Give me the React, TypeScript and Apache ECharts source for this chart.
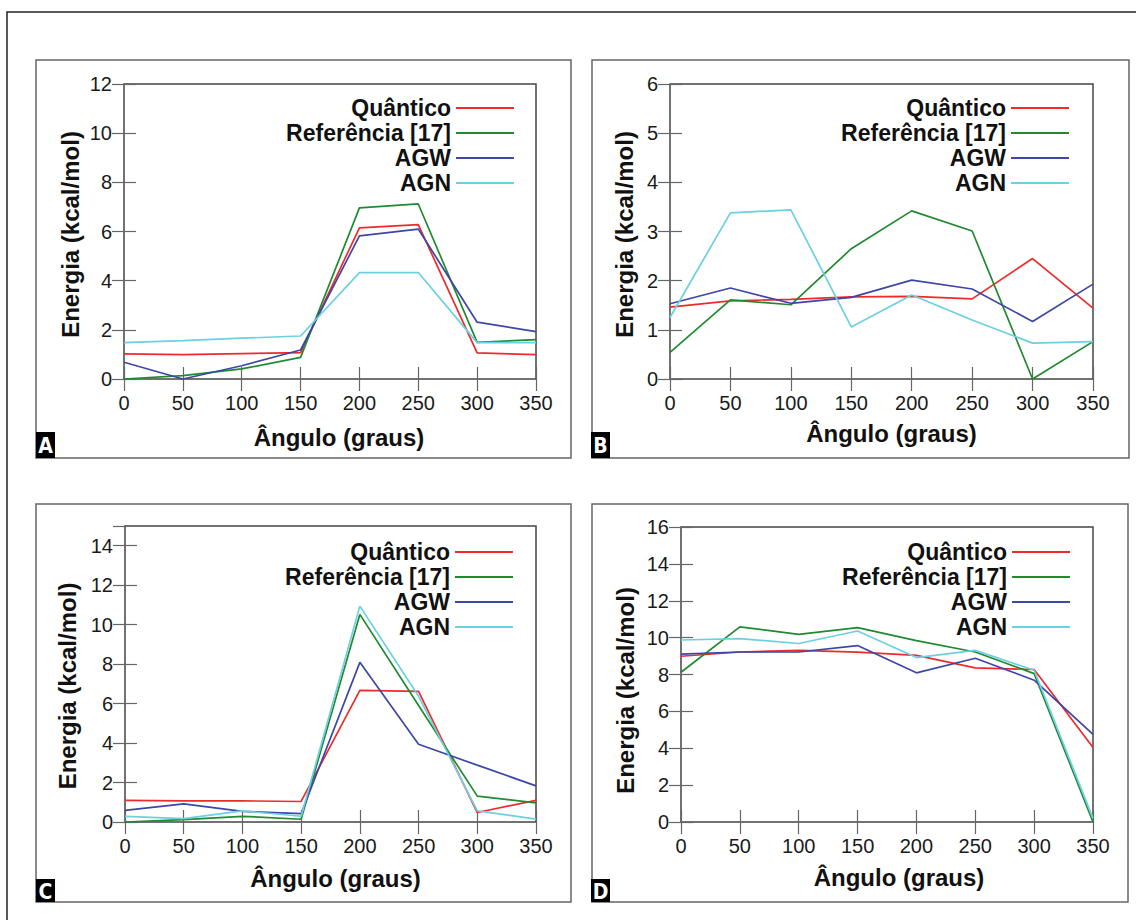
import React, { useEffect, useRef } from 'react';
import * as echarts from 'echarts';

// ---------------- data ----------------
const angles = [0, 50, 100, 150, 200, 250, 300, 350];
const seriesNames = ['Quântico', 'Referência [17]', 'AGW', 'AGN'];
const seriesColors = ['#ee2a2a', '#1f8a30', '#3d47a6', '#6dcfe2'];

// Panel A
const quanticoA = [1.02, 0.99, 1.03, 1.07, 6.15, 6.28, 1.06, 0.99];
const referenciaA = [0.0, 0.14, 0.41, 0.88, 6.96, 7.12, 1.49, 1.6];
const agwA = [0.68, 0.0, 0.54, 1.18, 5.82, 6.1, 2.31, 1.93];
const agnA = [1.48, 1.56, 1.66, 1.75, 4.33, 4.33, 1.48, 1.48];

// Panel B
const quanticoB = [1.46, 1.59, 1.62, 1.67, 1.68, 1.63, 2.45, 1.44];
const referenciaB = [0.54, 1.61, 1.51, 2.65, 3.42, 3.01, 0.0, 0.76];
const agwB = [1.53, 1.85, 1.54, 1.66, 2.01, 1.83, 1.17, 1.93];
const agnB = [1.25, 3.38, 3.44, 1.06, 1.71, 1.2, 0.73, 0.76];

// Panel C
const quanticoC = [1.1, 1.07, 1.07, 1.04, 6.67, 6.62, 0.48, 1.1];
const referenciaC = [0.0, 0.12, 0.29, 0.14, 10.52, 5.9, 1.31, 0.97];
const agwC = [0.59, 0.92, 0.54, 0.42, 8.09, 3.94, 2.88, 1.83];
const agnC = [0.29, 0.17, 0.56, 0.29, 10.94, 6.37, 0.56, 0.15];

// Panel D
const quanticoD = [8.99, 9.22, 9.31, 9.21, 9.04, 8.36, 8.27, 4.04];
const referenciaD = [8.12, 10.58, 10.18, 10.54, 9.84, 9.22, 8.05, 0.0];
const agwD = [9.1, 9.22, 9.22, 9.57, 8.09, 8.88, 7.69, 4.75];
const agnD = [9.87, 9.95, 9.68, 10.36, 8.92, 9.31, 8.23, 0.2];

const yMaxes = [12, 6, 15, 16];
const yIntervals = [2, 1, 2, 2];
const panelLetters = ['A', 'B', 'C', 'D'];
const xTitle = 'Ângulo (graus)';
const yTitle = 'Energia (kcal/mol)';

// ---------------- layout ----------------
const panelData = [
  [quanticoA, referenciaA, agwA, agnA],
  [quanticoB, referenciaB, agwB, agnB],
  [quanticoC, referenciaC, agwC, agnC],
  [quanticoD, referenciaD, agwD, agnD],
];

const layouts = [
  { grid: { left: 124, top: 84, width: 412, height: 295 }, legend: { right: 622, top: 95.5 }, xGap: 46, xPad: 18, yGap: 42, yPad: 6,
    frame: { x: 36, y: 60, width: 535, height: 398 }, tag: { x: 36, y: 432, width: 19, height: 26 } },
  { grid: { left: 670, top: 84, width: 423, height: 295 }, legend: { right: 67, top: 95.5 }, xGap: 42, xPad: 20, yGap: 34, yPad: 6,
    frame: { x: 592, y: 60, width: 537, height: 398 }, tag: { x: 591, y: 432, width: 19, height: 26 } },
  { grid: { left: 125, top: 526, width: 411, height: 296 }, legend: { right: 623, top: 539.5 }, xGap: 44, xPad: 10, yGap: 46, yPad: 24,
    frame: { x: 36, y: 504, width: 535, height: 398 }, tag: { x: 36, y: 879, width: 19, height: 23 } },
  { grid: { left: 681, top: 527, width: 412, height: 295 }, legend: { right: 66, top: 539.5 }, xGap: 43, xPad: 24, yGap: 44, yPad: 32,
    frame: { x: 592, y: 504, width: 536, height: 398 }, tag: { x: 591, y: 879, width: 19, height: 23 } },
];

const FONT = '"Liberation Sans", Arial, Helvetica, sans-serif';

function buildOption() {
  const grid: any[] = [];
  const xAxis: any[] = [];
  const yAxis: any[] = [];
  const legend: any[] = [];
  const series: any[] = [];
  const graphic: any[] = [];

  graphic.push({
    type: 'rect', silent: true, z: 0,
    shape: { x: 7, y: 12, width: 1145, height: 925 },
    style: { fill: 'none', stroke: '#222', lineWidth: 1.5 },
  });

  layouts.forEach((L, p) => {
    grid.push({ ...L.grid, show: true, borderColor: '#444', borderWidth: 1.5, backgroundColor: 'transparent', containLabel: false });

    const tickStyle = { show: true, inside: true, length: 12, lineStyle: { color: '#666', width: 1.2 } };
    xAxis.push({
      type: 'value', gridIndex: p, min: 0, max: 350, interval: 50, position: 'bottom',
      axisLine: { show: false }, splitLine: { show: false }, axisTick: tickStyle,
      axisLabel: { fontSize: 20, fontFamily: FONT, color: '#1a1a1a', margin: 14 },
      name: xTitle, nameLocation: 'middle', nameGap: L.xGap,
      nameTextStyle: { fontSize: 24, fontWeight: 'bold', fontFamily: FONT, color: '#111', padding: [0, 0, 0, L.xPad] },
    });
    xAxis.push({
      type: 'value', gridIndex: p, min: 0, max: 350, interval: 50, position: 'top',
      axisLine: { show: false }, splitLine: { show: false }, axisTick: tickStyle, axisLabel: { show: false },
    });
    yAxis.push({
      type: 'value', gridIndex: p, min: 0, max: yMaxes[p], interval: yIntervals[p], position: 'left',
      axisLine: { show: false }, splitLine: { show: false }, axisTick: tickStyle,
      axisLabel: { fontSize: 20, fontFamily: FONT, color: '#1a1a1a', margin: 12, showMaxLabel: yMaxes[p] % yIntervals[p] === 0 },
      name: yTitle, nameLocation: 'middle', nameGap: L.yGap,
      nameTextStyle: { fontSize: 24, fontWeight: 'bold', fontFamily: FONT, color: '#111', padding: [0, L.yPad, 0, 0] },
    });
    yAxis.push({
      type: 'value', gridIndex: p, min: 0, max: yMaxes[p], interval: yIntervals[p], position: 'right',
      axisLine: { show: false }, splitLine: { show: false }, axisTick: tickStyle, axisLabel: { show: false },
    });

    legend.push({
      data: seriesNames, orient: 'vertical', align: 'right', right: L.legend.right, top: L.legend.top,
      itemWidth: 58, itemHeight: 2, itemGap: 0, padding: 0, icon: 'rect', selectedMode: false,
      itemStyle: { borderWidth: 0 },
      textStyle: { fontSize: 23, fontWeight: 'bold', fontFamily: FONT, color: '#111', lineHeight: 25 },
    });

    panelData[p].forEach((vals, i) => {
      series.push({
        type: 'line', name: seriesNames[i], xAxisIndex: 2 * p, yAxisIndex: 2 * p,
        data: angles.map((a, k) => [a, vals[k]]),
        showSymbol: false, symbol: 'none', silent: true,
        lineStyle: { color: seriesColors[i], width: 1.7 },
        itemStyle: { color: seriesColors[i] },
      });
    });

    graphic.push({
      type: 'rect', silent: true, z: 1,
      shape: { ...L.frame },
      style: { fill: 'none', stroke: '#666', lineWidth: 1.5 },
    });
    graphic.push({
      type: 'rect', silent: true, z: 2,
      shape: { ...L.tag },
      style: { fill: '#000' },
    });
    graphic.push({
      type: 'text', silent: true, z: 3,
      x: L.tag.x + L.tag.width / 2, y: L.tag.y + L.tag.height / 2 + 1,
      style: {
        text: panelLetters[p], fill: '#fff',
        font: 'bold 21px "Liberation Sans Narrow", "DejaVu Sans Condensed", sans-serif',
        align: 'center', verticalAlign: 'middle', textAlign: 'center', textVerticalAlign: 'middle',
      },
    });
  });

  return { animation: false, backgroundColor: '#fff', grid, xAxis, yAxis, legend, series, graphic };
}

export default function App() {
  const ref = useRef<HTMLDivElement>(null);
  useEffect(() => {
    if (!ref.current) return;
    const chart = echarts.init(ref.current, undefined, { renderer: 'svg' });
    chart.setOption(buildOption() as any);
    return () => chart.dispose();
  }, []);
  return <div ref={ref} style={{ position: 'absolute', left: 0, top: 0, width: 1136, height: 920 }} />;
}
